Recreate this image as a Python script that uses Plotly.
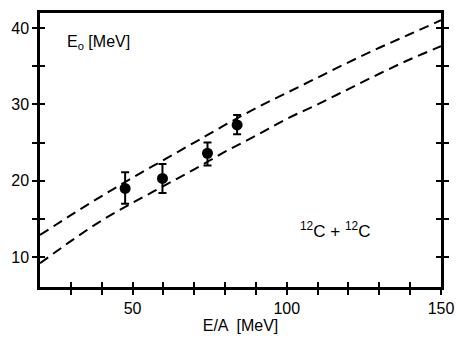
import plotly.graph_objects as go

# Data points (E/A in MeV, E0 in MeV) with asymmetric errors
pts_x = [47.6, 59.7, 74.3, 83.9]
pts_y = [19.0, 20.3, 23.6, 27.3]
err_plus = [2.1, 1.9, 1.4, 1.3]
err_minus = [2.0, 1.9, 1.6, 1.2]

# Dashed calculated curves
curve_x = [20, 30, 40, 50, 60, 70, 80, 90, 100, 110, 120, 130, 140, 150]
upper_y = [12.9, 15.5, 18.0, 20.4, 22.7, 25.0, 27.3, 29.5, 31.5, 33.5, 35.5, 37.4, 39.2, 41.0]
lower_y = [9.2, 12.1, 14.8, 17.1, 19.3, 21.5, 23.8, 25.9, 28.1, 30.0, 32.0, 34.0, 35.9, 37.6]

x_tickvals = [30, 40, 50, 60, 70, 80, 90, 100, 110, 120, 130, 140, 150]
x_ticktext = ["", "", "50", "", "", "", "", "100", "", "", "", "", "150"]
y_tickvals = [10, 15, 20, 25, 30, 35, 40]
y_ticktext = ["10", "", "20", "", "30", "", "40"]

XR = [20, 150]
YR = [6.1, 41.95]
FONT = "Liberation Sans"

fig = go.Figure()
for yy in (upper_y, lower_y):
    fig.add_trace(go.Scatter(x=curve_x, y=yy, mode="lines",
                             line=dict(color="black", width=2, dash="10px,6px"),
                             line_shape="spline", showlegend=False))
fig.add_trace(go.Scatter(
    x=pts_x, y=pts_y, mode="markers",
    marker=dict(color="black", size=11),
    error_y=dict(type="data", array=err_plus, arrayminus=err_minus,
                 color="black", thickness=2, width=4),
    showlegend=False))
# dummy trace to activate overlay axes (inside ticks)
fig.add_trace(go.Scatter(x=[None], y=[None], xaxis="x2", yaxis="y2",
                         showlegend=False, hoverinfo="skip"))

common_font = dict(family=FONT, size=16, color="black")
fig.update_layout(
    width=456, height=331,
    margin=dict(l=32, r=23, t=2, b=52),
    paper_bgcolor="white", plot_bgcolor="white",
    font=common_font,
    xaxis=dict(range=XR, tickvals=x_tickvals, ticktext=x_ticktext,
               ticks="outside", ticklen=5, tickwidth=2, tickcolor="black",
               showline=True, linewidth=2.5, linecolor="black", mirror=True,
               showgrid=False, zeroline=False,
               title=dict(text="E/A  [MeV]", standoff=2, font=common_font),
               tickfont=common_font),
    xaxis2=dict(range=XR, overlaying="x", tickvals=x_tickvals,
                ticks="inside", ticklen=5, tickwidth=2, tickcolor="black",
                showticklabels=False, showline=False, showgrid=False,
                zeroline=False, side="bottom"),
    yaxis=dict(range=YR, tickvals=y_tickvals, ticktext=y_ticktext,
               ticks="outside", ticklen=5, tickwidth=2, tickcolor="black",
               showline=True, linewidth=2.5, linecolor="black", mirror="ticks",
               showgrid=False, zeroline=False, tickfont=common_font),
    yaxis2=dict(range=YR, overlaying="y", tickvals=y_tickvals,
                ticks="inside", ticklen=5, tickwidth=2, tickcolor="black",
                showticklabels=False, showline=False, mirror="ticks",
                showgrid=False, zeroline=False, side="left"),
    annotations=[
        dict(x=28.0, y=38.1, xref="x", yref="y", xanchor="left", yanchor="middle",
             text="E<sub>o</sub> [MeV]", showarrow=False,
             font=dict(family=FONT, size=16, color="black")),
        dict(x=115.5, y=13.6, xref="x", yref="y", xanchor="center", yanchor="middle",
             text="<sup>12</sup>C + <sup>12</sup>C", showarrow=False,
             font=dict(family=FONT, size=17, color="black")),
    ],
)

fig.write_html("out.html")
